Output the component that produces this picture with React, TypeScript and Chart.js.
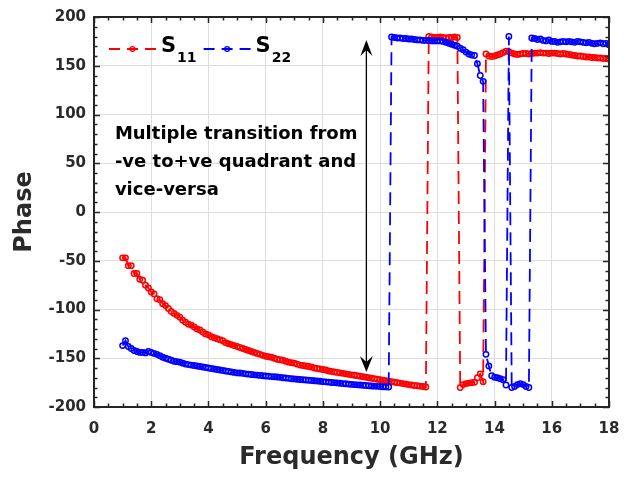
import React, { useEffect, useRef } from "react";
import { Chart, registerables } from "chart.js";

Chart.register(...registerables);

// ---------- data ----------
const FREQ_START = 1.0; // GHz
const FREQ_STEP = 0.1; // GHz

// S11 phase (deg), 1.0 ... 18.0 GHz, step 0.1
const S11 = [
  -47, -47, -55, -55, -63, -63, -69, -70, -75, -78,
  -82, -84, -89, -90, -94, -96, -99, -102, -104, -106,
  -108, -111, -113, -115, -116, -118, -120, -121, -123, -125,
  -126, -128, -129, -130, -131, -132, -134, -135, -136, -137,
  -138, -139, -140, -141, -142, -143, -144, -145, -146, -147,
  -148, -148.5, -149, -150, -151, -151.5, -152, -153, -154, -154.5,
  -155, -156, -157, -157.5, -158, -158.5, -159, -160, -160.5, -161,
  -161.5, -162, -163, -163.5, -164, -164.5, -165, -165.5, -166, -166.5,
  -167, -167.5, -168, -168.5, -169, -169.5, -170, -170.5, -171, -171.5,
  -172, -172.5, -173, -173.5, -174, -174.5, -175, -175.5, -176, -176.5,
  -177, -177.5, -178, -178.2, -178.6, -179, -179.5, 180, 179.5, 179,
  179, 179.5, 179, 178.5, 179, 179, 179.5, 179, -180, -177,
  -176, -175.5, -175, -174.5, -170, -166, -174, 162, 160, 159.5,
  160, 161, 162, 163.5, 165, 164.5, 163, 162, 161.5, 162,
  162.5, 162.5, 162, 162.5, 163, 163, 163.5, 163, 163, 162.5,
  163, 163, 162.5, 162, 162.5, 162, 161.5, 161, 160.5, 160,
  160, 159.5, 159, 159, 158.5, 158.5, 158, 158, 157.5, 157.5,
  157,
];

// S22 phase (deg), 1.0 ... 18.0 GHz, step 0.1
const S22 = [
  -137, -132, -138, -140, -142, -143, -144, -144, -144.5, -143,
  -144, -145, -146, -147.5, -149, -150, -151, -152, -153, -153.5,
  -154, -155, -156, -156.5, -157, -157.5, -158, -158.5, -159, -159.5,
  -160, -160.5, -161, -161.5, -162, -162.5, -163, -163.5, -164, -164.5,
  -165, -165.2, -165.5, -166, -166.3, -166.7, -167, -167.3, -167.6, -168,
  -168.2, -168.5, -168.8, -169, -169.3, -169.6, -170, -170.3, -170.6, -171,
  -171.2, -171.5, -171.8, -172, -172.3, -172.5, -172.8, -173, -173.3, -173.6,
  -174, -174.2, -174.5, -174.8, -175, -175.3, -175.6, -176, -176.2, -176.5,
  -176.8, -177, -177.3, -177.5, -177.7, -178, -178.2, -178.4, -178.6, -178.8,
  -179, -179.2, -179.4, -179.5, 179.5, 179, 178.5, 178.5, 178, 178,
  177.5, 177.5, 177, 176.5, 176.5, 176, 176, 176, 175.5, 175.5,
  175.5, 175.5, 175, 174, 173, 172, 171, 170, 168, 166.5,
  164, 162, 161, 160.5, 152, 140, 134, -146, -158, -168,
  -169.5, -170, -171, -172, -177.5, 180, -180, -179, -177, -176,
  -177, -179, -180, 178.5, 178, 177, 177.5, 176, 175.5, 176.5,
  175, 175, 174, 174.5, 175, 174.5, 175, 174.5, 174, 175,
  174.5, 174, 173.5, 174, 173, 172.5, 173, 173.5, 172.5, 173,
  171.5,
];

const X_TICKS = [0, 2, 4, 6, 8, 10, 12, 14, 16, 18];
const Y_TICKS = [-200, -150, -100, -50, 0, 50, 100, 150, 200];
const X_MINOR_STEP = 0.5;
const Y_MINOR_STEP = 10;

const SERIES_NAMES = ["S", "S"];
const SERIES_SUBS = ["11", "22"];
const NOTE_LINES = ["Multiple transition from", "-ve to+ve quadrant and", "vice-versa"];

// annotation anchors (data coordinates)
const NOTE_X = 0.73; // GHz
const NOTE_Y = 74.5; // first baseline, deg
const ARROW_X = 9.52; // GHz
const ARROW_TOP = 176.5;
const ARROW_BOTTOM = -164;

// ---------- styles ----------
const FONT = "'DejaVu Sans', 'Liberation Sans', sans-serif";
const RED = "#ff0000";
const BLUE = "#0000ff";
const AXIS_COLOR = "#262626";
const TEXT_COLOR = "#2a2a2a";
const GRID_COLOR = "#dddddd";
const LINE_DASH = [13, 7];

const toPoints = (vals: number[]) =>
  vals.map((v, i) => ({ x: Math.round((FREQ_START + i * FREQ_STEP) * 10) / 10, y: v }));

const overlayPlugin = {
  id: "overlay",
  afterDraw(chart: any) {
    const { ctx, chartArea: a } = chart;
    const xs = chart.scales.x;
    const ys = chart.scales.y;
    ctx.save();

    // frame
    ctx.strokeStyle = AXIS_COLOR;
    ctx.lineWidth = 2;
    ctx.setLineDash([]);
    ctx.strokeRect(a.left, a.top, a.right - a.left, a.bottom - a.top);

    // inward ticks
    ctx.lineWidth = 1.5;
    ctx.beginPath();
    const xMin = xs.min, xMax = xs.max;
    for (let k = 0; xMin + k * X_MINOR_STEP <= xMax + 1e-9; k++) {
      const v = xMin + k * X_MINOR_STEP;
      const major = X_TICKS.some((t) => Math.abs(t - v) < 1e-6);
      const len = major ? 6 : 3.5;
      const px = Math.round(xs.getPixelForValue(v)) + 0.5;
      ctx.moveTo(px, a.bottom);
      ctx.lineTo(px, a.bottom - len);
      ctx.moveTo(px, a.top);
      ctx.lineTo(px, a.top + len);
    }
    const yMin = ys.min, yMax = ys.max;
    for (let k = 0; yMin + k * Y_MINOR_STEP <= yMax + 1e-9; k++) {
      const v = yMin + k * Y_MINOR_STEP;
      const major = Y_TICKS.some((t) => Math.abs(t - v) < 1e-6);
      const len = major ? 6 : 3.5;
      const py = Math.round(ys.getPixelForValue(v)) + 0.5;
      ctx.moveTo(a.left, py);
      ctx.lineTo(a.left + len, py);
      ctx.moveTo(a.right, py);
      ctx.lineTo(a.right - len, py);
    }
    ctx.stroke();

    // annotation text
    ctx.fillStyle = "#000";
    ctx.font = `bold 18px ${FONT}`;
    ctx.textAlign = "left";
    ctx.textBaseline = "alphabetic";
    const nx = xs.getPixelForValue(NOTE_X);
    const ny = ys.getPixelForValue(NOTE_Y);
    NOTE_LINES.forEach((line, i) => ctx.fillText(line, nx, ny + i * 28));

    // double-headed arrow
    const ax = xs.getPixelForValue(ARROW_X);
    const at = ys.getPixelForValue(ARROW_TOP);
    const ab = ys.getPixelForValue(ARROW_BOTTOM);
    ctx.strokeStyle = "#000";
    ctx.lineWidth = 1.3;
    ctx.beginPath();
    ctx.moveTo(ax, at + 8);
    ctx.lineTo(ax, ab - 8);
    ctx.stroke();
    ctx.fillStyle = "#000";
    ctx.beginPath();
    ctx.moveTo(ax, at);
    ctx.lineTo(ax - 6, at + 16);
    ctx.lineTo(ax, at + 10);
    ctx.lineTo(ax + 6, at + 16);
    ctx.closePath();
    ctx.fill();
    ctx.beginPath();
    ctx.moveTo(ax, ab);
    ctx.lineTo(ax - 6.5, ab - 16);
    ctx.lineTo(ax, ab - 10);
    ctx.lineTo(ax + 6.5, ab - 16);
    ctx.closePath();
    ctx.fill();

    // legend
    const colors = [RED, BLUE];
    let cx = a.left + 15;
    const ly = a.top + 32;
    for (let i = 0; i < 2; i++) {
      ctx.strokeStyle = colors[i];
      ctx.lineWidth = 1.8;
      ctx.setLineDash([11, 7]);
      ctx.beginPath();
      ctx.moveTo(cx, ly);
      ctx.lineTo(cx + 47, ly);
      ctx.stroke();
      ctx.setLineDash([]);
      ctx.lineWidth = 1.3;
      ctx.beginPath();
      ctx.arc(cx + 23.5, ly, 2.4, 0, Math.PI * 2);
      ctx.stroke();
      let tx = cx + 52;
      ctx.fillStyle = "#000";
      ctx.font = `bold 21px ${FONT}`;
      ctx.fillText(SERIES_NAMES[i], tx, ly + 3);
      tx += ctx.measureText(SERIES_NAMES[i]).width + 1;
      ctx.font = `bold 14px ${FONT}`;
      ctx.fillText(SERIES_SUBS[i], tx, ly + 13);
      tx += ctx.measureText(SERIES_SUBS[i]).width;
      cx = tx + 7;
    }

    ctx.restore();
  },
};

export default function App() {
  const ref = useRef<HTMLCanvasElement | null>(null);

  useEffect(() => {
    if (!ref.current) return;
    const dsCommon = {
      borderWidth: 1.8,
      borderDash: LINE_DASH,
      pointRadius: 2.7,
      pointBorderWidth: 1.5,
      pointBackgroundColor: "rgba(0,0,0,0)",
      pointStyle: "circle",
      tension: 0,
      fill: false,
    };
    const chart = new Chart(ref.current, {
      type: "line",
      data: {
        datasets: [
          {
            ...dsCommon,
            label: "S11",
            data: toPoints(S11),
            borderColor: RED,
            pointBorderColor: RED,
            order: 1,
          },
          {
            ...dsCommon,
            label: "S22",
            data: toPoints(S22),
            borderColor: BLUE,
            pointBorderColor: BLUE,
            order: 0,
          },
        ],
      },
      options: {
        responsive: false,
        animation: false,
        events: [],
        layout: { padding: { top: 15, right: 25, left: 0, bottom: 0 } },
        plugins: {
          legend: { display: false },
          tooltip: { enabled: false },
        },
        scales: {
          x: {
            type: "linear",
            min: 0,
            max: 18,
            afterFit: (s: any) => {
              s.height = 72;
            },
            afterBuildTicks: (s: any) => {
              s.ticks = X_TICKS.map((v) => ({ value: v }));
            },
            grid: { color: GRID_COLOR, lineWidth: 1, drawTicks: false },
            border: { display: false },
            ticks: {
              padding: 13,
              autoSkip: false,
              maxRotation: 0,
              color: TEXT_COLOR,
              font: { family: FONT, size: 15, weight: "bold" },
              callback: (v: any) => String(v),
            },
            title: {
              display: true,
              text: "Frequency (GHz)",
              color: TEXT_COLOR,
              font: { family: FONT, size: 24, weight: "bold" },
              padding: { top: 0, bottom: 7 },
            },
          },
          y: {
            type: "linear",
            min: -200,
            max: 200,
            afterFit: (s: any) => {
              s.width = 94;
            },
            afterBuildTicks: (s: any) => {
              s.ticks = Y_TICKS.map((v) => ({ value: v }));
            },
            grid: { color: GRID_COLOR, lineWidth: 1, drawTicks: false },
            border: { display: false },
            ticks: {
              padding: 8,
              color: TEXT_COLOR,
              font: { family: FONT, size: 15, weight: "bold" },
              callback: (v: any) => String(v),
            },
            title: {
              display: true,
              text: "Phase",
              color: TEXT_COLOR,
              font: { family: FONT, size: 24, weight: "bold" },
              padding: { top: 10, bottom: 0 },
            },
          },
        },
      },
      plugins: [overlayPlugin],
    });
    return () => chart.destroy();
  }, []);

  return (
    <div style={{ position: "absolute", left: 0, top: 0, width: 634, height: 479, background: "#fff" }}>
      <canvas ref={ref} width={634} height={479} style={{ display: "block" }} />
    </div>
  );
}
